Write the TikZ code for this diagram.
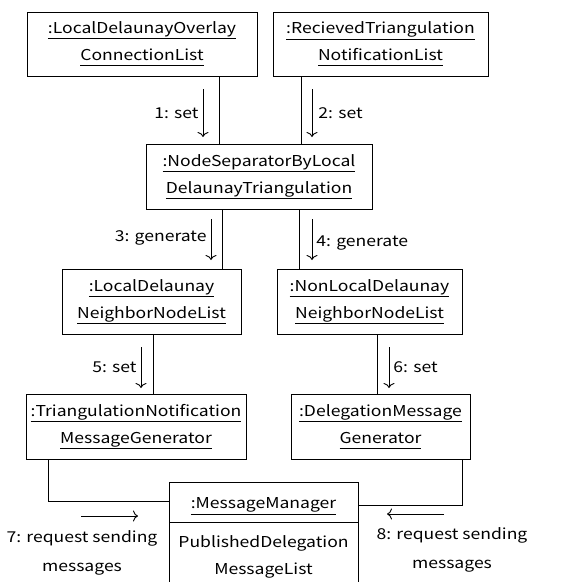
\documentclass[tikz,border=0pt]{standalone}
\usepackage{fontspec}
\setmainfont{Noto Sans CJK JP}[FakeStretch=1.17]
\usetikzlibrary{arrows.meta}

\newcommand\objname[1]{\underline{\vphantom{y}#1}}

\tikzset{
  obj/.style={draw, line width=1pt, align=center, inner sep=0pt, outer sep=0pt,
    font=\fontsize{15}{27}\selectfont,
    execute at begin node={\rule{0pt}{19pt}}},
  msg/.style={line width=0.9pt, -{To[length=5pt,width=11pt]}},
  lbl/.style={font=\fontsize{15}{29}\selectfont, align=center, inner sep=2pt},
  link/.style={line width=1pt}
}

\begin{document}
\begin{tikzpicture}[x=1pt,y=-1pt]
  \clip (0,0) rectangle (580,582);

  % objects
  \node[obj, minimum width=230, minimum height=64] (conn) at (142,44)
    {\objname{:LocalDelaunayOverlay}\\\objname{ConnectionList}};
  \node[obj, minimum width=215, minimum height=64] (notif) at (380.5,44)
    {\objname{:RecievedTriangulation}\\\objname{NotificationList}};
  \node[obj, minimum width=226, minimum height=65] (sep) at (259,176.5)
    {\objname{:NodeSeparatorByLocal}\\\objname{DelaunayTriangulation}};
  \node[obj, minimum width=179, minimum height=65] (ldnl) at (151.5,301.5)
    {\objname{:LocalDelaunay}\\\objname{NeighborNodeList}};
  \node[obj, minimum width=185, minimum height=65] (nldnl) at (369.5,301.5)
    {\objname{:NonLocalDelaunay}\\\objname{NeighborNodeList}};
  \node[obj, minimum width=220, minimum height=65] (tnmg) at (136,426.5)
    {\objname{:TriangulationNotification}\\\objname{MessageGenerator}};
  \node[obj, minimum width=179, minimum height=65] (dmg) at (380.5,426.5)
    {\objname{:DelegationMessage}\\\objname{Generator}};
  \node[obj, minimum width=189, minimum height=40] (mgr) at (263.5,502)
    {\objname{:MessageManager}};
  \node[obj, minimum width=189, minimum height=70, anchor=north] (pdml) at (mgr.south)
    {PublishedDelegation\\MessageList};

  % links
  \coordinate (c1) at (219,0);
  \coordinate (c2) at (301,0);
  \coordinate (c3) at (222,0);
  \coordinate (c4) at (299,0);
  \coordinate (c5) at (153,0);
  \coordinate (c6) at (377,0);
  \coordinate (c7) at (48,0);
  \coordinate (c8) at (462,0);
  \draw[link] (conn.south -| c1) -- (sep.north -| c1);
  \draw[link] (notif.south -| c2) -- (sep.north -| c2);
  \draw[link] (sep.south -| c3) -- (ldnl.north -| c3);
  \draw[link] (sep.south -| c4) -- (nldnl.north -| c4);
  \draw[link] (ldnl.south -| c5) -- (tnmg.north -| c5);
  \draw[link] (nldnl.south -| c6) -- (dmg.north -| c6);
  \draw[link] (tnmg.south -| c7) |- (mgr.west |- 0,501);
  \draw[link] (dmg.south -| c8) |- (mgr.east |- 0,505);

  % messages
  \draw[msg] (203,89) -- (203,137) node[lbl, midway, left=2pt] {1: set};
  \draw[msg] (312,89) -- (312,137) node[lbl, midway, right=4pt] {2: set};
  \draw[msg] (211,219) -- (211,260) node[lbl, pos=0.45, left=2pt] {3: generate};
  \draw[msg] (312,219) -- (312,260) node[lbl, pos=0.58, right=2pt] {4: generate};
  \draw[msg] (141,347) -- (141,388) node[lbl, midway, left=2pt] {5: set};
  \draw[msg] (389,347) -- (389,388) node[lbl, midway, right=2pt] {6: set};
  \draw[msg] (81,516) -- (138,516);
  \node[lbl] (m7) at (82,553) {7: request sending\\messages};
  \draw[msg] (444,514) -- (387,514);
  \node[lbl] (m8) at (452,550) {8: request sending\\messages};
\end{tikzpicture}
\end{document}
